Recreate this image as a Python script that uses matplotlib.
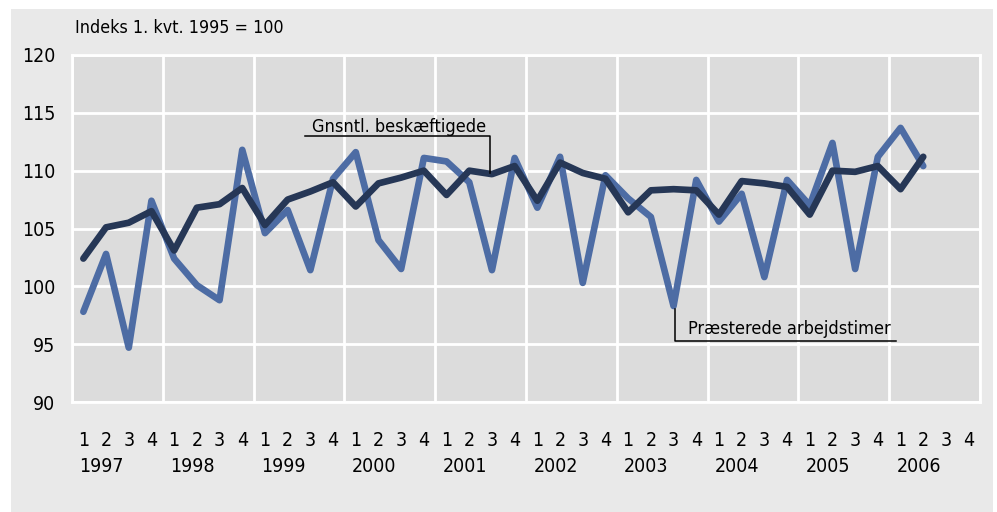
import matplotlib
matplotlib.use("Agg")
import matplotlib.pyplot as plt
from matplotlib.patches import Rectangle

plt.rcParams['font.family'] = ['DejaVu Sans']
plt.rcParams['font.stretch'] = 'condensed'

years = [1997, 1998, 1999, 2000, 2001, 2002, 2003, 2004, 2005, 2006]
quarters = ["1", "2", "3", "4"]

# Gnsntl. beskæftigede, 1997K1 - 2006K2
employed = [102.4, 105.1, 105.5, 106.5, 103.1, 106.8, 107.1, 108.5,
            105.3, 107.5, 108.2, 109.0, 106.9, 108.9, 109.4, 110.0,
            107.9, 110.0, 109.7, 110.4, 107.4, 110.7, 109.8, 109.3,
            106.4, 108.3, 108.4, 108.3, 106.2, 109.1, 108.9, 108.6,
            106.2, 110.0, 109.9, 110.4, 108.4, 111.2]

# Præsterede arbejdstimer
hours = [97.8, 102.8, 94.7, 107.4, 102.4, 100.1, 98.8, 111.8,
         104.6, 106.6, 101.4, 109.3, 111.6, 104.0, 101.5, 111.1,
         110.8, 109.0, 101.4, 111.1, 106.8, 111.2, 100.3, 109.6,
         107.6, 106.0, 98.3, 109.2, 105.6, 108.0, 100.8, 109.2,
         107.0, 112.4, 101.5, 111.2, 113.7, 110.4]

dark = "#263756"
blue = "#4d6ca4"

fig = plt.figure(figsize=(9.97, 5.12), dpi=100)
fig.patch.set_facecolor("white")
fig.patches.append(Rectangle((11 / 997, 0), 982 / 997, 503 / 512,
                             transform=fig.transFigure, facecolor="#e9e9e9",
                             edgecolor="none", zorder=-10))

ax = fig.add_axes([72 / 997, 110 / 512, 908 / 997, 347 / 512])
ax.set_facecolor("#dcdcdc")

n_q = len(years) * 4
x_emp = list(range(len(employed)))
x_hours = list(range(len(hours)))

ax.plot(x_hours, hours, color=blue, linewidth=4.8, solid_capstyle="round", zorder=3)
ax.plot(x_emp, employed, color=dark, linewidth=4.8, solid_capstyle="round", zorder=4)

ax.set_xlim(-0.5, n_q - 0.5)
ax.set_ylim(90, 120)
ax.set_yticks([90, 95, 100, 105, 110, 115, 120])

ax.set_xticks(range(n_q))
ax.set_xticklabels(quarters * len(years))
ax.set_xticks([i * 4 - 0.5 for i in range(len(years) + 1)], minor=True)

ax.grid(False)
ax.grid(which="minor", axis="x", color="white", linewidth=2)
ax.grid(which="major", axis="y", color="white", linewidth=2)
for s in ax.spines.values():
    s.set_color("white")
    s.set_linewidth(2)
ax.tick_params(which="both", length=0)
ax.tick_params(axis="y", pad=12, labelsize=14)
ax.tick_params(axis="x", pad=21, labelsize=14)

for i, yr in enumerate(years):
    ax.annotate(str(yr), xy=(i * 4 + 0.8, 0), xycoords=("data", "axes fraction"),
                xytext=(0, -64), textcoords="offset pixels",
                ha="center", va="center", fontsize=14)

fig.text(75 / 997, 1 - 28 / 512, "Indeks 1. kvt. 1995 = 100", fontsize=12.8,
         ha="left", va="center")

# leader lines for the labels
ax.plot([9.76, 17.9, 17.9], [113.0, 113.0, 109.8], color="black", linewidth=1.1, zorder=5)
ax.text(10.07, 113.3, "Gnsntl. beskæftigede", fontsize=13, ha="left", va="baseline")

ax.plot([26.05, 26.05, 35.8], [98.0, 95.28, 95.28], color="black", linewidth=1.1, zorder=5)
ax.text(26.62, 95.86, "Præsterede arbejdstimer", fontsize=13, ha="left", va="baseline")

fig.savefig("out.png", dpi=100)
